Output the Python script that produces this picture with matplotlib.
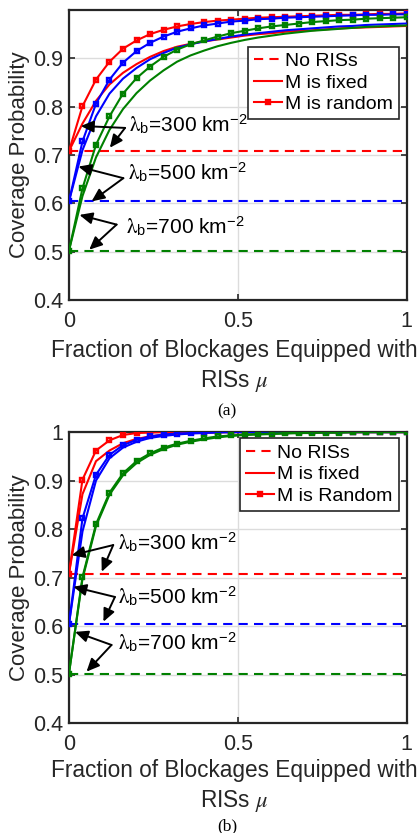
import matplotlib
matplotlib.use("Agg")
import matplotlib.pyplot as plt

plt.rcParams["font.family"] = ["Liberation Sans", "DejaVu Sans"]
plt.rcParams["mathtext.fontset"] = "stix"

# fraction of blockages equipped with RISs
mu = [0.00, 0.04, 0.08, 0.12, 0.16, 0.20, 0.24, 0.28, 0.32, 0.36, 0.40, 0.44, 0.48,
      0.52, 0.56, 0.60, 0.64, 0.68, 0.72, 0.76, 0.80, 0.84, 0.88, 0.92, 0.96, 1.00]

densities = [300, 500, 700]
no_ris = [0.708, 0.604, 0.502]

# (a) coverage with M fixed / M random
a_fixed = [
    [0.708, 0.765, 0.812, 0.846, 0.870, 0.888, 0.903, 0.915, 0.924, 0.930, 0.935, 0.939, 0.943,
     0.947, 0.950, 0.952, 0.955, 0.957, 0.958, 0.960, 0.962, 0.963, 0.964, 0.965, 0.966, 0.967],
    [0.604, 0.710, 0.780, 0.827, 0.858, 0.880, 0.898, 0.911, 0.922, 0.929, 0.935, 0.940, 0.945,
     0.949, 0.952, 0.955, 0.958, 0.960, 0.962, 0.964, 0.966, 0.967, 0.969, 0.970, 0.971, 0.972],
    [0.502, 0.615, 0.695, 0.752, 0.795, 0.828, 0.854, 0.875, 0.893, 0.906, 0.916, 0.925, 0.932,
     0.938, 0.943, 0.947, 0.951, 0.954, 0.957, 0.959, 0.961, 0.963, 0.965, 0.966, 0.967, 0.968],
]
a_random = [
    [0.708, 0.801, 0.856, 0.893, 0.920, 0.937, 0.950, 0.959, 0.966, 0.971, 0.975, 0.978, 0.980,
     0.982, 0.984, 0.985, 0.986, 0.987, 0.988, 0.989, 0.990, 0.990, 0.991, 0.992, 0.992, 0.993],
    [0.604, 0.728, 0.806, 0.856, 0.891, 0.915, 0.932, 0.945, 0.955, 0.962, 0.968, 0.972, 0.976,
     0.978, 0.981, 0.982, 0.984, 0.985, 0.986, 0.987, 0.988, 0.989, 0.990, 0.990, 0.991, 0.991],
    [0.502, 0.631, 0.721, 0.780, 0.827, 0.859, 0.883, 0.903, 0.918, 0.929, 0.937, 0.945, 0.952,
     0.957, 0.962, 0.966, 0.969, 0.972, 0.975, 0.977, 0.979, 0.980, 0.982, 0.983, 0.984, 0.985],
]

# (b) coverage with M fixed / M random
b_fixed = [
    [0.708, 0.872, 0.940, 0.962, 0.977, 0.986, 0.991, 0.995, 0.997, 0.998, 0.999, 1.000, 1.000,
     1.000, 1.000, 1.000, 1.000, 1.000, 1.000, 1.000, 1.000, 1.000, 1.000, 1.000, 1.000, 1.000],
    [0.604, 0.795, 0.900, 0.946, 0.968, 0.980, 0.988, 0.992, 0.995, 0.997, 0.998, 0.999, 1.000,
     1.000, 1.000, 1.000, 1.000, 1.000, 1.000, 1.000, 1.000, 1.000, 1.000, 1.000, 1.000, 1.000],
    [0.502, 0.697, 0.806, 0.871, 0.911, 0.936, 0.953, 0.965, 0.974, 0.980, 0.985, 0.989, 0.992,
     0.994, 0.995, 0.996, 0.997, 0.998, 0.998, 0.999, 0.999, 1.000, 1.000, 1.000, 1.000, 1.000],
]
b_random = [
    [0.708, 0.902, 0.962, 0.983, 0.994, 0.998, 0.999, 1.000, 1.000, 1.000, 1.000, 1.000, 1.000,
     1.000, 1.000, 1.000, 1.000, 1.000, 1.000, 1.000, 1.000, 1.000, 1.000, 1.000, 1.000, 1.000],
    [0.604, 0.822, 0.912, 0.953, 0.973, 0.984, 0.991, 0.995, 0.997, 0.998, 0.999, 1.000, 1.000,
     1.000, 1.000, 1.000, 1.000, 1.000, 1.000, 1.000, 1.000, 1.000, 1.000, 1.000, 1.000, 1.000],
    [0.502, 0.701, 0.810, 0.875, 0.915, 0.940, 0.956, 0.968, 0.976, 0.982, 0.987, 0.991, 0.993,
     0.995, 0.996, 0.997, 0.998, 0.998, 0.999, 0.999, 0.999, 1.000, 1.000, 1.000, 1.000, 1.000],
]

colors = ["#ff0000", "#0000ff", "#008000"]
DARK = "#262626"
DASH = (0, (4.4, 3.0))

# annotation geometry: (text position, arrow origin, two arrow tips) per density
a_notes = [
    ((0.178, 0.747), (0.166, 0.756), [(0.035, 0.760), (0.121, 0.715)]),
    ((0.175, 0.649), (0.161, 0.652), [(0.028, 0.676), (0.067, 0.604)]),
    ((0.170, 0.537), (0.141, 0.556), [(0.031, 0.576), (0.060, 0.504)]),
]
b_notes = [
    ((0.145, 0.756), (0.131, 0.767), [(0.008, 0.746), (0.097, 0.712)]),
    ((0.145, 0.645), (0.136, 0.660), [(0.013, 0.681), (0.102, 0.609)]),
    ((0.145, 0.551), (0.126, 0.561), [(0.018, 0.588), (0.052, 0.506)]),
]


def draw_panel(ax, fixed, random_, notes, random_label, legend_top, yticks, ytop, xlabel_y):
    for k, c in enumerate(colors):
        ax.plot([mu[0], mu[-1]], [no_ris[k]] * 2, color=c, lw=1.5, ls=DASH, zorder=3)
        ax.plot(mu, fixed[k], color=c, lw=1.5, zorder=4)
        ax.plot(mu, random_[k], color=c, lw=1.5, marker="s", ms=3.4, mfc="none",
                mew=1.7, zorder=5)

    for k, (txt, origin, tips) in enumerate(notes):
        ax.text(txt[0], txt[1],
                r"$\mathrm{\lambda}_{\mathregular{b}}$" + f"={densities[k]} km"
                + r"$^{\mathregular{-2}}$",
                fontsize=15, color="black", va="baseline", ha="left", zorder=7)
        for tip in tips:
            ax.annotate("", xy=tip, xytext=origin,
                        arrowprops=dict(arrowstyle="-|>,head_length=0.55,head_width=0.25",
                                        color="black", lw=1.4, shrinkA=0, shrinkB=0,
                                        mutation_scale=14),
                        zorder=7)

    ax.set_xlim(0, 1)
    ax.set_ylim(0.4, ytop)
    ax.set_xticks([0, 0.5, 1])
    ax.set_xticklabels(["0", "0.5", "1"])
    ax.set_yticks(yticks)
    ax.set_yticklabels([f"{v:g}" for v in yticks])
    ax.grid(True, color="#dcdcdc", lw=1.0, zorder=0)
    ax.set_axisbelow(True)
    ax.tick_params(direction="in", length=4, width=1.2, top=True, right=True,
                   labelsize=15.5, colors=DARK)
    ax.tick_params(axis="x", pad=8)
    ax.tick_params(axis="y", pad=4)
    for s in ax.spines.values():
        s.set_color(DARK)
        s.set_linewidth(1.6)

    ax.set_ylabel("Coverage Probability", fontsize=16, color=DARK)
    ax.yaxis.set_label_coords(-0.115, 0.5)
    ax.set_xlabel("Fraction of Blockages Equipped with\n" + r"RISs $\mu$",
                  fontsize=16.3, color=DARK, linespacing=1.3)
    ax.xaxis.set_label_coords(0.49, xlabel_y)

    h_no, = ax.plot([], [], color="r", lw=1.5, ls=DASH)
    h_fx, = ax.plot([], [], color="r", lw=1.5)
    h_rd, = ax.plot([], [], color="r", lw=1.5, marker="s", ms=3.4, mfc="none", mew=1.7)
    leg = ax.legend([h_no, h_fx, h_rd], ["No RISs", "M is fixed", random_label],
                    loc="upper right", bbox_to_anchor=(0.976, legend_top),
                    fontsize=14, frameon=True, fancybox=False, framealpha=1,
                    edgecolor=DARK, handlelength=1.45, handletextpad=0.15,
                    labelspacing=0.2, borderpad=0.3, borderaxespad=0.0, numpoints=1)
    leg.get_frame().set_linewidth(1.2)
    leg.set_zorder(8)


fig = plt.figure(figsize=(4.18, 8.33), dpi=100)
ax_a = fig.add_axes([0.165, 0.6399, 0.808, 0.3481])
ax_b = fig.add_axes([0.165, 0.1320, 0.808, 0.3493])

draw_panel(ax_a, a_fixed, a_random, a_notes, "M is random", 0.873,
           [0.4, 0.5, 0.6, 0.7, 0.8, 0.9], 1.0, -0.135)
draw_panel(ax_b, b_fixed, b_random, b_notes, "M is Random", 0.978,
           [0.4, 0.5, 0.6, 0.7, 0.8, 0.9, 1.0], 1.0, -0.125)

fig.text(227 / 418, 1 - 411 / 833, "(a)", ha="center", va="center",
         family="Liberation Serif", fontsize=12.5)
fig.text(227 / 418, 1 - 826 / 833, "(b)", ha="center", va="center",
         family="Liberation Serif", fontsize=12.5)

fig.savefig("out.png", dpi=100)
